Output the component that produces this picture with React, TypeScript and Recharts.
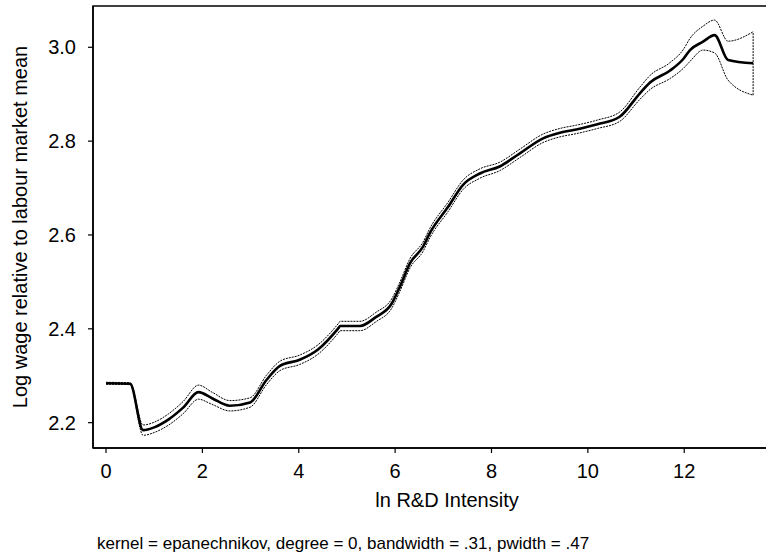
import { ComposedChart, Line, XAxis, YAxis, ReferenceArea, ReferenceLine } from "recharts";

// ln R&D intensity grid and the kernel fit with its 95% band
const xs = [
  0, 0.5, 0.77, 1.0, 1.3, 1.6, 1.92, 2.2, 2.57, 2.99, 3.33, 3.61, 4.02, 4.4, 4.82, 4.86, 5.27, 5.6, 5.93,
  6.1, 6.31, 6.58, 6.72, 7.1, 7.41, 7.76, 8.17, 8.59, 9.07, 9.42, 9.76, 10.2, 10.66, 11.08, 11.29, 11.7,
  11.98, 12.12, 12.39, 12.63, 12.91, 13.43,
];
const fit = [
  2.284, 2.283, 2.184, 2.19, 2.207, 2.232, 2.265, 2.252, 2.236, 2.243, 2.291, 2.321, 2.334, 2.356, 2.401,
  2.406, 2.406, 2.425, 2.454, 2.49, 2.54, 2.575, 2.604, 2.66, 2.707, 2.731, 2.746, 2.774, 2.806, 2.818,
  2.825, 2.836, 2.852, 2.902, 2.925, 2.95, 2.975, 2.994, 3.012, 3.026, 2.973, 2.966,
];
const upper = [
  2.286, 2.285, 2.195, 2.201, 2.219, 2.245, 2.28, 2.265, 2.247, 2.253, 2.301, 2.331, 2.344, 2.366, 2.411,
  2.416, 2.416, 2.435, 2.464, 2.5, 2.55, 2.585, 2.614, 2.67, 2.717, 2.741, 2.755, 2.783, 2.815, 2.827,
  2.834, 2.845, 2.862, 2.915, 2.94, 2.967, 2.995, 3.019, 3.045, 3.058, 3.013, 3.033,
];
const lower = [
  2.282, 2.281, 2.173, 2.179, 2.195, 2.219, 2.25, 2.239, 2.225, 2.233, 2.281, 2.311, 2.324, 2.346, 2.391,
  2.396, 2.396, 2.415, 2.444, 2.48, 2.53, 2.565, 2.594, 2.65, 2.697, 2.721, 2.737, 2.765, 2.797, 2.809,
  2.816, 2.827, 2.842, 2.889, 2.91, 2.933, 2.955, 2.97, 2.994, 2.988, 2.93, 2.898,
];

const xTicks = [0, 2, 4, 6, 8, 10, 12];
const yTicks = [2.2, 2.4, 2.6, 2.8, 3.0];
// the frame runs past the right edge of the picture
const xDomain = [-0.27, 13.78];
const yDomain = [2.146, 3.088];

const FONT = "'Liberation Sans', Arial, sans-serif";
const INK = "#000";

const rows = xs.map((x, i) => ({ x, fit: fit[i], upper: upper[i], lower: lower[i] }));
const last = xs.length - 1;

export default function App() {
  return (
    <div
      style={{
        position: "absolute",
        left: 0,
        top: 0,
        width: 766,
        height: 557,
        overflow: "hidden",
        background: "#fff",
      }}
    >
      <ComposedChart
        width={776}
        height={557}
        data={rows}
        margin={{ top: 6, right: 6, bottom: 0, left: 0 }}
      >
        <XAxis
          type="number"
          dataKey="x"
          domain={xDomain}
          allowDataOverflow
          ticks={xTicks}
          height={109}
          tickSize={5}
          tickMargin={11}
          tick={{ fill: INK, fontSize: 20, fontFamily: FONT }}
          axisLine={{ stroke: INK, strokeWidth: 1.5 }}
          tickLine={{ stroke: INK, strokeWidth: 1.2 }}
        />
        <YAxis
          type="number"
          domain={yDomain}
          allowDataOverflow
          ticks={yTicks}
          width={93}
          tickSize={5}
          tickMargin={12}
          tickFormatter={(v) => v.toFixed(1)}
          tick={{ fill: INK, fontSize: 20, fontFamily: FONT }}
          axisLine={{ stroke: INK, strokeWidth: 1.5 }}
          tickLine={{ stroke: INK, strokeWidth: 1.2 }}
        />
        <ReferenceArea
          x1={xDomain[0]}
          x2={xDomain[1]}
          y1={yDomain[0]}
          y2={yDomain[1]}
          fill="none"
          fillOpacity={0}
          stroke={INK}
          strokeWidth={1.5}
        />
        <Line
          dataKey="upper"
          stroke={INK}
          strokeWidth={1}
          strokeDasharray="2 1"
          dot={false}
          type="monotone"
          isAnimationActive={false}
        />
        <Line
          dataKey="lower"
          stroke={INK}
          strokeWidth={1}
          strokeDasharray="2 1"
          dot={false}
          type="monotone"
          isAnimationActive={false}
        />
        <ReferenceLine
          segment={[
            { x: xs[last], y: lower[last] },
            { x: xs[last], y: upper[last] },
          ]}
          stroke={INK}
          strokeWidth={1}
          strokeDasharray="2 1"
        />
        <Line
          dataKey="fit"
          stroke={INK}
          strokeWidth={2.6}
          dot={false}
          type="monotone"
          isAnimationActive={false}
        />
      </ComposedChart>
      <svg
        width={766}
        height={557}
        style={{ position: "absolute", left: 0, top: 0, pointerEvents: "none" }}
      >
        <text
          x={0}
          y={0}
          transform="translate(27,227) rotate(-90)"
          textAnchor="middle"
          fontFamily={FONT}
          fontSize={20}
          fill={INK}
        >
          Log wage relative to labour market mean
        </text>
        <text x={447} y={507} textAnchor="middle" fontFamily={FONT} fontSize={20} fill={INK}>
          ln R&amp;D Intensity
        </text>
        <text x={97} y={549} fontFamily={FONT} fontSize={17} fill={INK}>
          kernel = epanechnikov, degree = 0, bandwidth = .31, pwidth = .47
        </text>
      </svg>
    </div>
  );
}
